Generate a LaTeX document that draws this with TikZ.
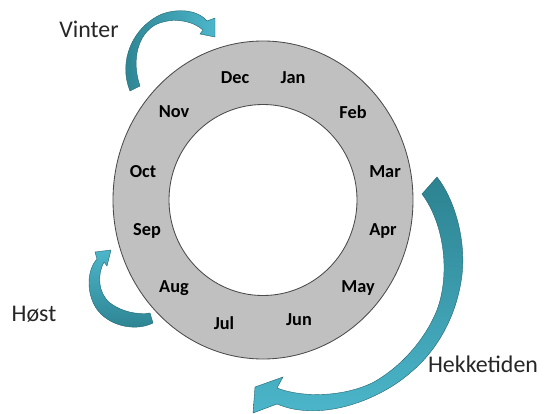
\documentclass[tikz,border=0pt]{standalone}
\usepackage{fontspec}
\setmainfont{Carlito}
\usepackage{tikz}
\usetikzlibrary{positioning}
\definecolor{ringgray}{RGB}{192,192,192}
\definecolor{ringline}{RGB}{75,75,75}
\definecolor{tealdark}{RGB}{44,130,144}
\definecolor{teallight}{RGB}{76,182,202}

\begin{document}
\begin{tikzpicture}[x=0.025cm,y=-0.025cm,
  month/.style={font=\fontsize{13}{15}\selectfont\bfseries},
  season/.style={font=\fontsize{17}{20}\selectfont,text=black!85},
  bendarrow/.style={draw=tealdark!80!black,line width=0.3pt}]

\useasboundingbox (0,0) rectangle (546,414);

% Ring
\coordinate (c) at (263,200);
\path[fill=ringgray,even odd rule] (c) ellipse (150 and 159) (c) ellipse (94 and 95.5);
\draw[ringline,line width=0.6pt] (c) ellipse (150 and 159);
\draw[ringline,line width=0.6pt] (c) ellipse (94 and 95.5);

% Months
\foreach \m/\x/\y in {Jan/293/78, Feb/353/112, Mar/385/172, Apr/383/231,
                      May/358/288, Jun/299/320, Jul/224/323, Aug/174/288,
                      Sep/147/231, Oct/143/172, Nov/174/112, Dec/235/78}
  \node[month] (\m) at (\x,\y) {\m};

% Vinter
\node[season] (vinter) at (89,29) {Vinter};
\shadedraw[bendarrow,left color=tealdark,right color=teallight]
  (130,91) .. controls (118,62) and (132,27) .. (162,14)
  .. controls (182,7) and (200,12) .. (207,21) -- (215,18) -- (215,37)
  -- (200,34) -- (203,30) .. controls (193,21) and (174,17) .. (157,24)
  .. controls (138,33) and (131,60) .. (140,86) -- cycle;

% Host
\node[season] (host) at (34,314) {Høst};
\shadedraw[bendarrow,top color=teallight,bottom color=tealdark]
  (150,313) -- (153,323) .. controls (135,332) and (108,326) .. (96,308)
  .. controls (86,292) and (87,270) .. (97,259) -- (95,252) -- (111,250)
  -- (107,266) -- (104,262) .. controls (97,275) and (98,293) .. (110,303)
  .. controls (122,312) and (138,315) .. (150,313) -- cycle;

% Hekketiden
\node[season] (hekk) at (483,364) {Hekketiden};
\shadedraw[bendarrow,top color=tealdark,bottom color=teallight]
  (422,194) -- (437,177) .. controls (455,200) and (466,240) .. (462,275)
  .. controls (457,315) and (438,350) .. (410,373)
  .. controls (385,395) and (340,415) .. (300,410)
  .. controls (290,409) and (282,406) .. (277,404) -- (253,413) -- (255,387)
  -- (283,377) -- (277,388) .. controls (300,397) and (340,398) .. (372,383)
  .. controls (400,368) and (425,340) .. (437,310)
  .. controls (450,275) and (445,225) .. (422,194) -- cycle;

\end{tikzpicture}
\end{document}
